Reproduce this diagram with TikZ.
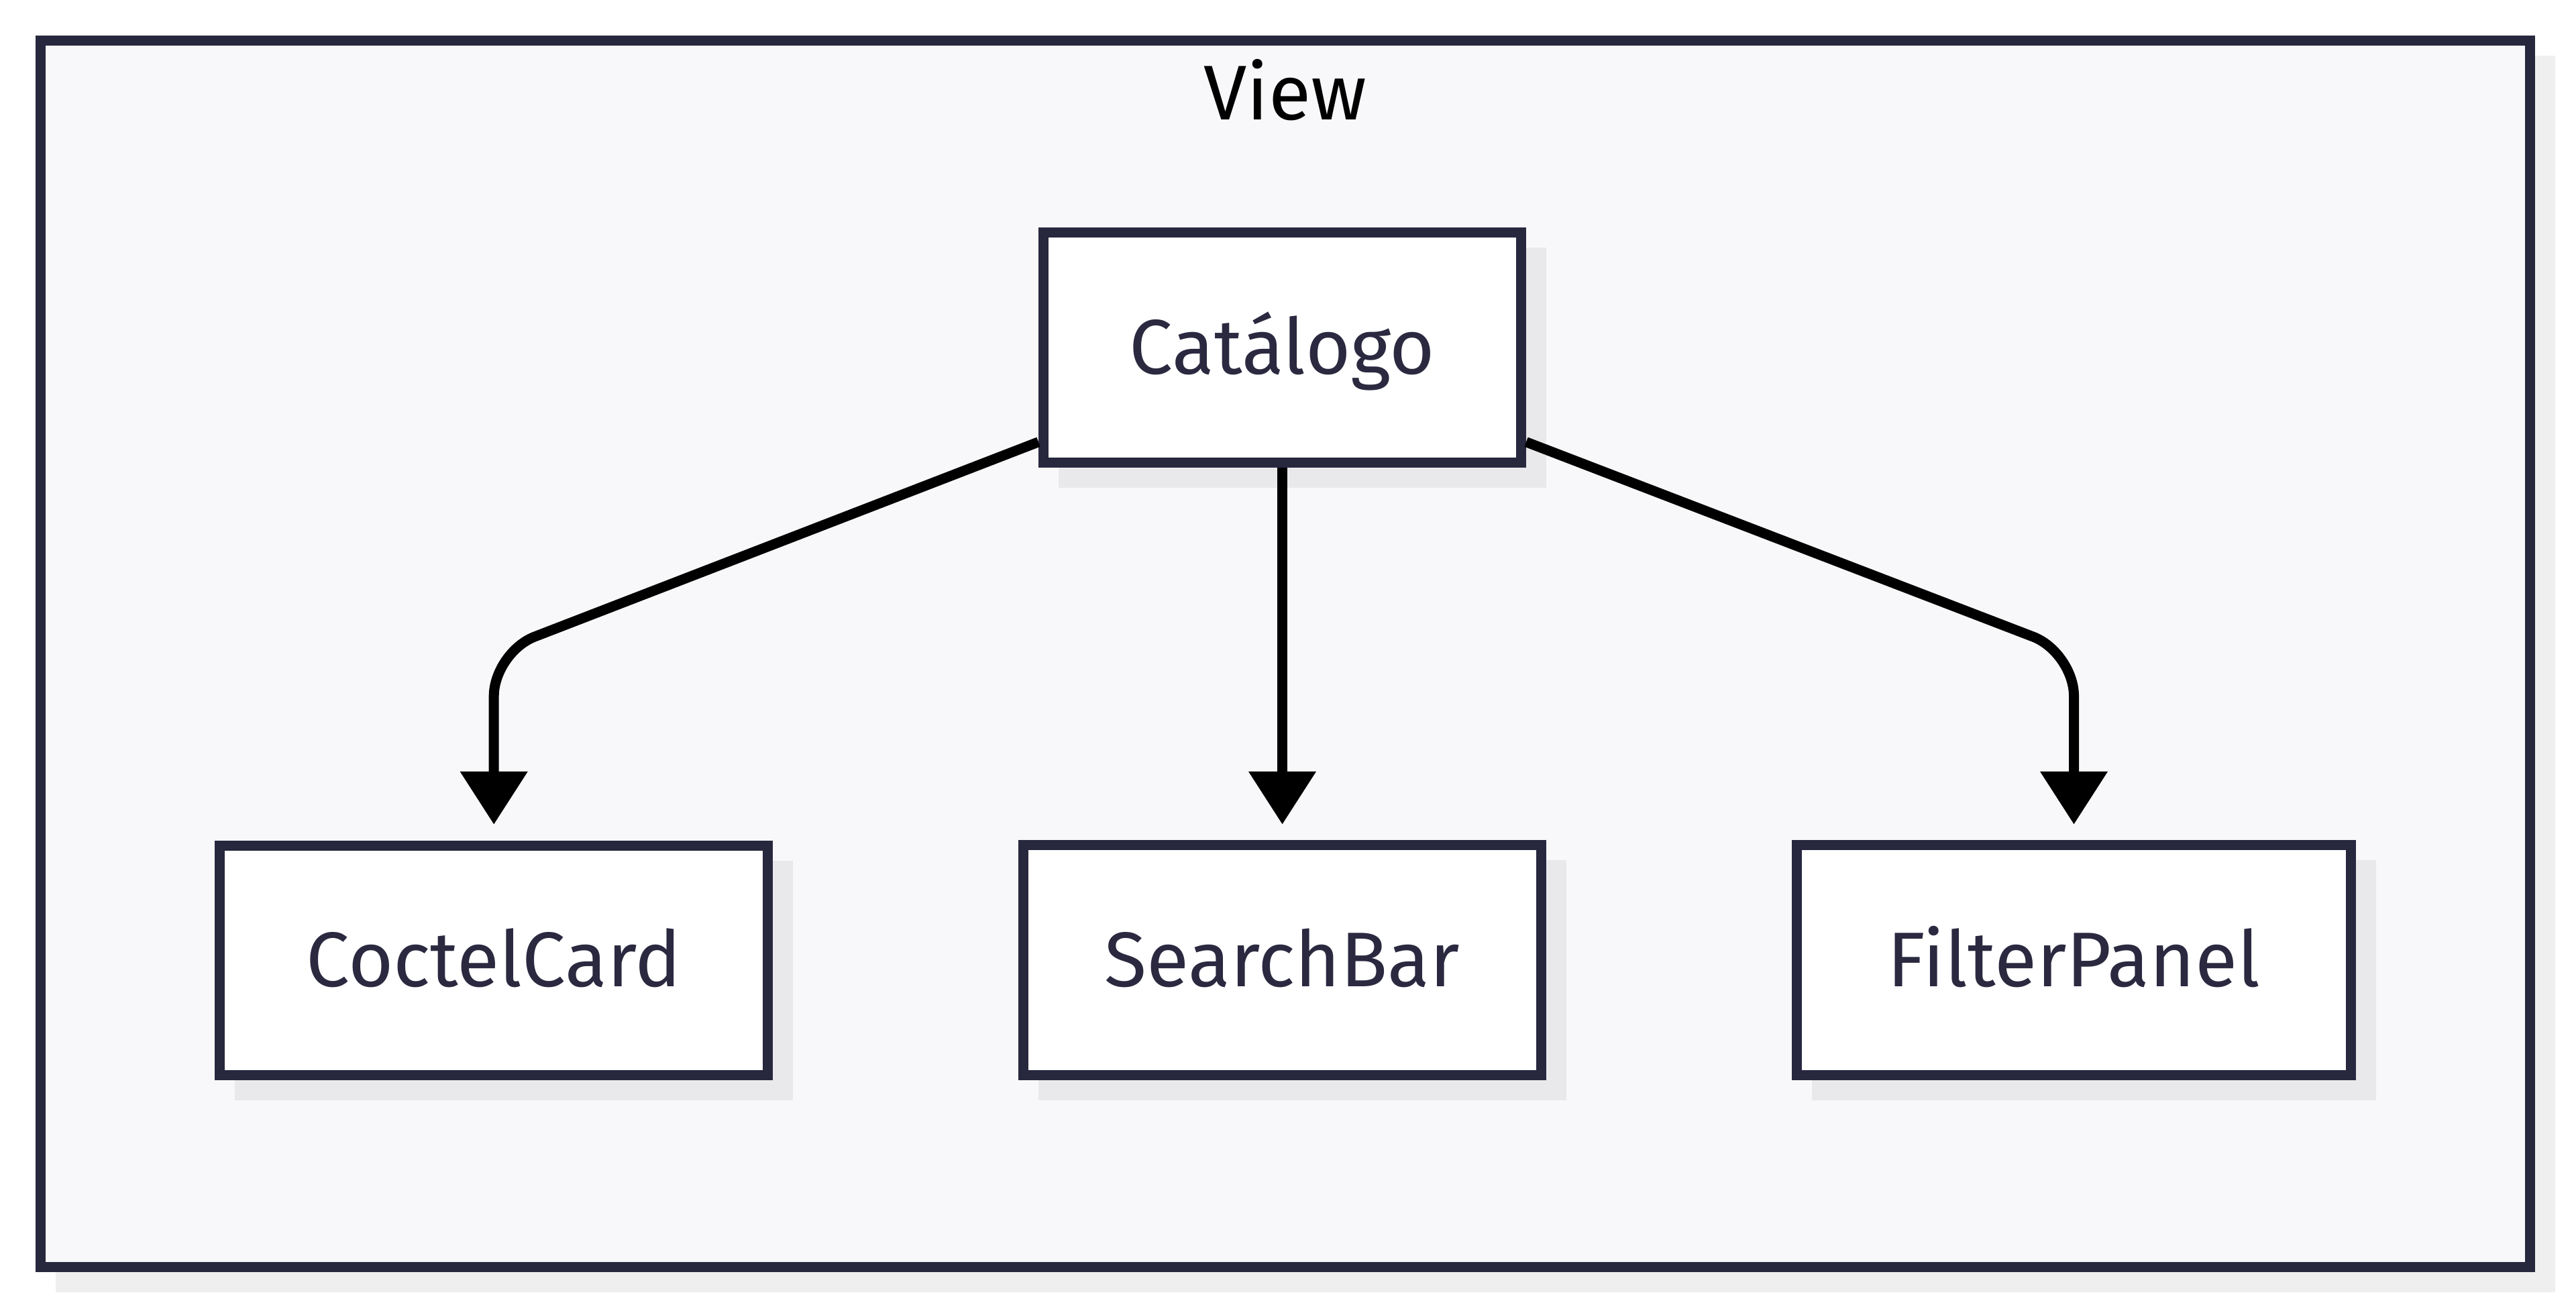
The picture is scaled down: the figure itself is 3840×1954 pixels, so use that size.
\documentclass[tikz,border=0pt]{standalone}
\usepackage{fontspec}
\setmainfont{Fira Sans}
\usetikzlibrary{arrows.meta,calc}
\pgfdeclarelayer{fshad}
\pgfdeclarelayer{back}
\pgfdeclarelayer{shad}
\pgfsetlayers{fshad,back,shad,main}
\definecolor{bord}{HTML}{27273E}
\definecolor{txt}{HTML}{2A2940}
\definecolor{frfill}{HTML}{F8F8FA}
\definecolor{shin}{HTML}{E9E9EC}
\definecolor{shout}{HTML}{EFEFEF}
\begin{document}
\begin{tikzpicture}[x=0.25pt,y=-0.25pt,
  labelfont/.style={font=\fontsize{28.9pt}{34pt}\selectfont, text height=19.8pt, text depth=0pt, inner sep=0pt},
  comp/.style={labelfont, draw=bord, line width=3.75pt, fill=white, minimum height=85.65pt, text=txt},
  frame/.style={draw=bord, line width=3.75pt, fill=frfill, inner sep=0pt},
  shadowbox/.style={fill=shin},
  conn/.style={draw=black, line width=3.75pt, rounded corners=16.25pt, -{Triangle[length=19.75pt,width=24.25pt]}, shorten >=5.9pt},
]
\useasboundingbox (0,0) rectangle (3840,1954);

% frame (subgraph View)
\begin{pgfonlayer}{back}
\node[frame, minimum width=927.6pt, minimum height=456.9pt] (view) at (1915.85,974.5) {};
\end{pgfonlayer}
\begin{pgfonlayer}{fshad}
\fill[white] (0,0) rectangle (3840,1954);
\fill[shout] ($(view.north west)+(30,30)$) rectangle ($(view.south east)+(30,30)$);
\end{pgfonlayer}
\node[labelfont, text=black] (viewlabel) at (1915.5,138.5) {View};

% components
\node[comp, minimum width=177.98pt] (cat) at (1911.5,517.75) {Catálogo};
\node[comp, minimum width=204.2pt] (cc) at (736.2,1431.3) {CoctelCard};
\node[comp, minimum width=193.1pt] (sb) at (1911.5,1431.2) {SearchBar};
\node[comp, minimum width=206.45pt] (fp) at (3091.5,1431.2) {FilterPanel};

% shadows
\begin{pgfonlayer}{shad}
\foreach \n in {cat,cc,sb,fp}{
  \fill[shadowbox] ($(\n.north west)+(30,30)$) rectangle ($(\n.south east)+(30,30)$);
}
\end{pgfonlayer}

% connectors
\draw[conn] ($(cat.west)+(0,141)$) -- ($(cc.north)+(0,-280)$) -- (cc.north);
\draw[conn] (cat.south) -- (sb.north);
\draw[conn] ($(cat.east)+(0,141)$) -- ($(fp.north)+(0,-280)$) -- (fp.north);
\end{tikzpicture}
\end{document}
